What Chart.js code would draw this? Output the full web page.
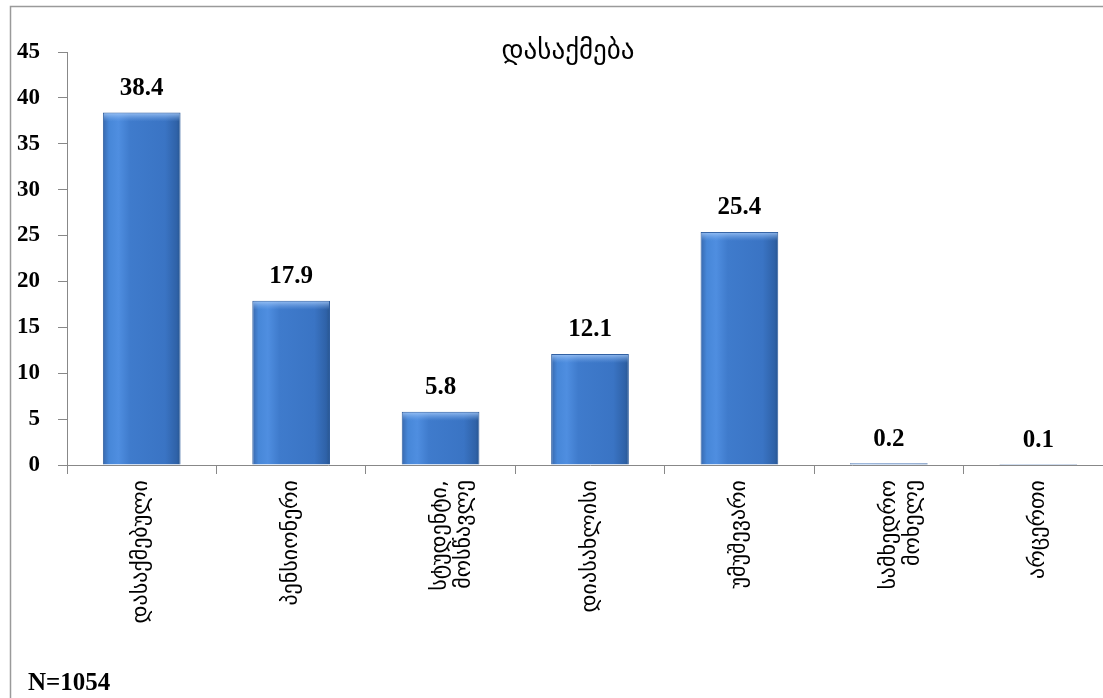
<!DOCTYPE html>
<html>
<head>
<meta charset="utf-8">
<script src="https://cdn.jsdelivr.net/npm/chart.js@4"></script>
<style>
  body { margin: 0; background: #fff; overflow: hidden; }
  #chart { position: absolute; left: 0; top: 0; }
</style>
</head>
<body>
<canvas id="chart" width="1113" height="698"></canvas>
<script>
const categories = [
    'დასაქმებული',
    'პენსიონერი',
    ['სტუდენტი,', 'მოსწავლე'],
    'დიასახლისი',
    'უმუშევარი',
    ['სამხედრო', 'მოხელე'],
    'არცერთი'
];
const values = [38.4, 17.9, 5.8, 12.1, 25.4, 0.2, 0.1];
const yTicks = [0, 5, 10, 15, 20, 25, 30, 35, 40, 45];
const chartTitle = 'დასაქმება';
const note = 'N=1054';

const geoFont = '"DejaVu Sans", sans-serif';
const numFont = '"Liberation Serif", "DejaVu Serif", serif';
const barPct = 0.52;

// frame, title, bar bevels, value labels and the N note
const extras = {
    id: 'extras',
    beforeDraw(chart) {
        const c = chart.ctx;
        c.save();
        c.fillStyle = '#fff';
        c.fillRect(0, 0, chart.width, chart.height);
        c.strokeStyle = '#9a9a9a';
        c.lineWidth = 1.5;
        c.beginPath();
        c.moveTo(10.5, chart.height);
        c.lineTo(10.5, 6.5);
        c.lineTo(chart.width, 6.5);
        c.stroke();
        c.restore();
    },
    afterDatasetsDraw(chart) {
        const c = chart.ctx;
        c.save();
        // top bevel highlight
        chart.getDatasetMeta(0).data.forEach((bar) => {
            const h = bar.base - bar.y;
            if (h < 4) return;
            const bh = Math.min(9, h / 2);
            const g = c.createLinearGradient(0, bar.y, 0, bar.y + bh);
            g.addColorStop(0, 'rgba(170,205,250,0.85)');
            g.addColorStop(1, 'rgba(120,170,235,0)');
            c.fillStyle = g;
            c.fillRect(bar.x - bar.width / 2 + 1, bar.y + 1, bar.width - 2, bh);
        });

        c.fillStyle = '#000';
        c.textAlign = 'center';
        c.textBaseline = 'middle';
        c.font = '27px ' + geoFont;
        c.fillText(chartTitle, 568, 52);

        c.font = 'bold 25px ' + numFont;
        chart.getDatasetMeta(0).data.forEach((bar, i) => {
            c.fillText(values[i].toFixed(1), bar.x, bar.y - 24);
        });

        c.font = 'bold 25px ' + numFont;
        c.textAlign = 'left';
        c.fillText(note, 28, 684);
        c.restore();
    }
};

function barFill(context) {
    const chart = context.chart;
    const xs = chart.scales && chart.scales.x;
    if (!chart.chartArea || !xs) return '#3d7acc';
    const x = xs.getPixelForValue(context.dataIndex);
    const w = xs.width / categories.length * barPct;
    const g = chart.ctx.createLinearGradient(x - w / 2, 0, x + w / 2, 0);
    g.addColorStop(0, '#3768ad');
    g.addColorStop(0.08, '#4787d8');
    g.addColorStop(0.2, '#4f8ee0');
    g.addColorStop(0.35, '#3f7bcc');
    g.addColorStop(0.8, '#3a74c4');
    g.addColorStop(0.95, '#2f62a8');
    g.addColorStop(1, '#27558f');
    return g;
}

new Chart(document.getElementById('chart'), {
    type: 'bar',
    data: {
        labels: categories,
        datasets: [{
            data: values,
            backgroundColor: barFill,
            borderColor: '#2d5c9e',
            borderWidth: 1,
            barPercentage: barPct,
            categoryPercentage: 1
        }]
    },
    plugins: [extras],
    options: {
        responsive: false,
        animation: false,
        layout: { padding: { top: 52, right: 0, left: 0, bottom: 0 } },
        plugins: {
            legend: { display: false },
            tooltip: { enabled: false },
            title: { display: false }
        },
        scales: {
            x: {
                afterFit: (scale) => { scale.height = 233; },
                grid: {
                    offset: true,
                    drawOnChartArea: false,
                    color: '#888',
                    tickLength: 9
                },
                border: { color: '#888', width: 1 },
                ticks: {
                    minRotation: 90,
                    maxRotation: 90,
                    autoSkip: false,
                    padding: 6,
                    color: '#000',
                    font: { family: geoFont, size: 22, lineHeight: 1.1 }
                }
            },
            y: {
                min: 0,
                max: 45,
                afterFit: (scale) => { scale.width = 67; },
                afterBuildTicks: (scale) => { scale.ticks = yTicks.map(v => ({ value: v })); },
                grid: {
                    drawOnChartArea: false,
                    color: '#888',
                    tickLength: 9
                },
                border: { color: '#888', width: 1 },
                ticks: {
                    padding: 18,
                    color: '#000',
                    font: { family: numFont, size: 23, weight: 'bold' }
                }
            }
        }
    }
});
</script>
</body>
</html>
